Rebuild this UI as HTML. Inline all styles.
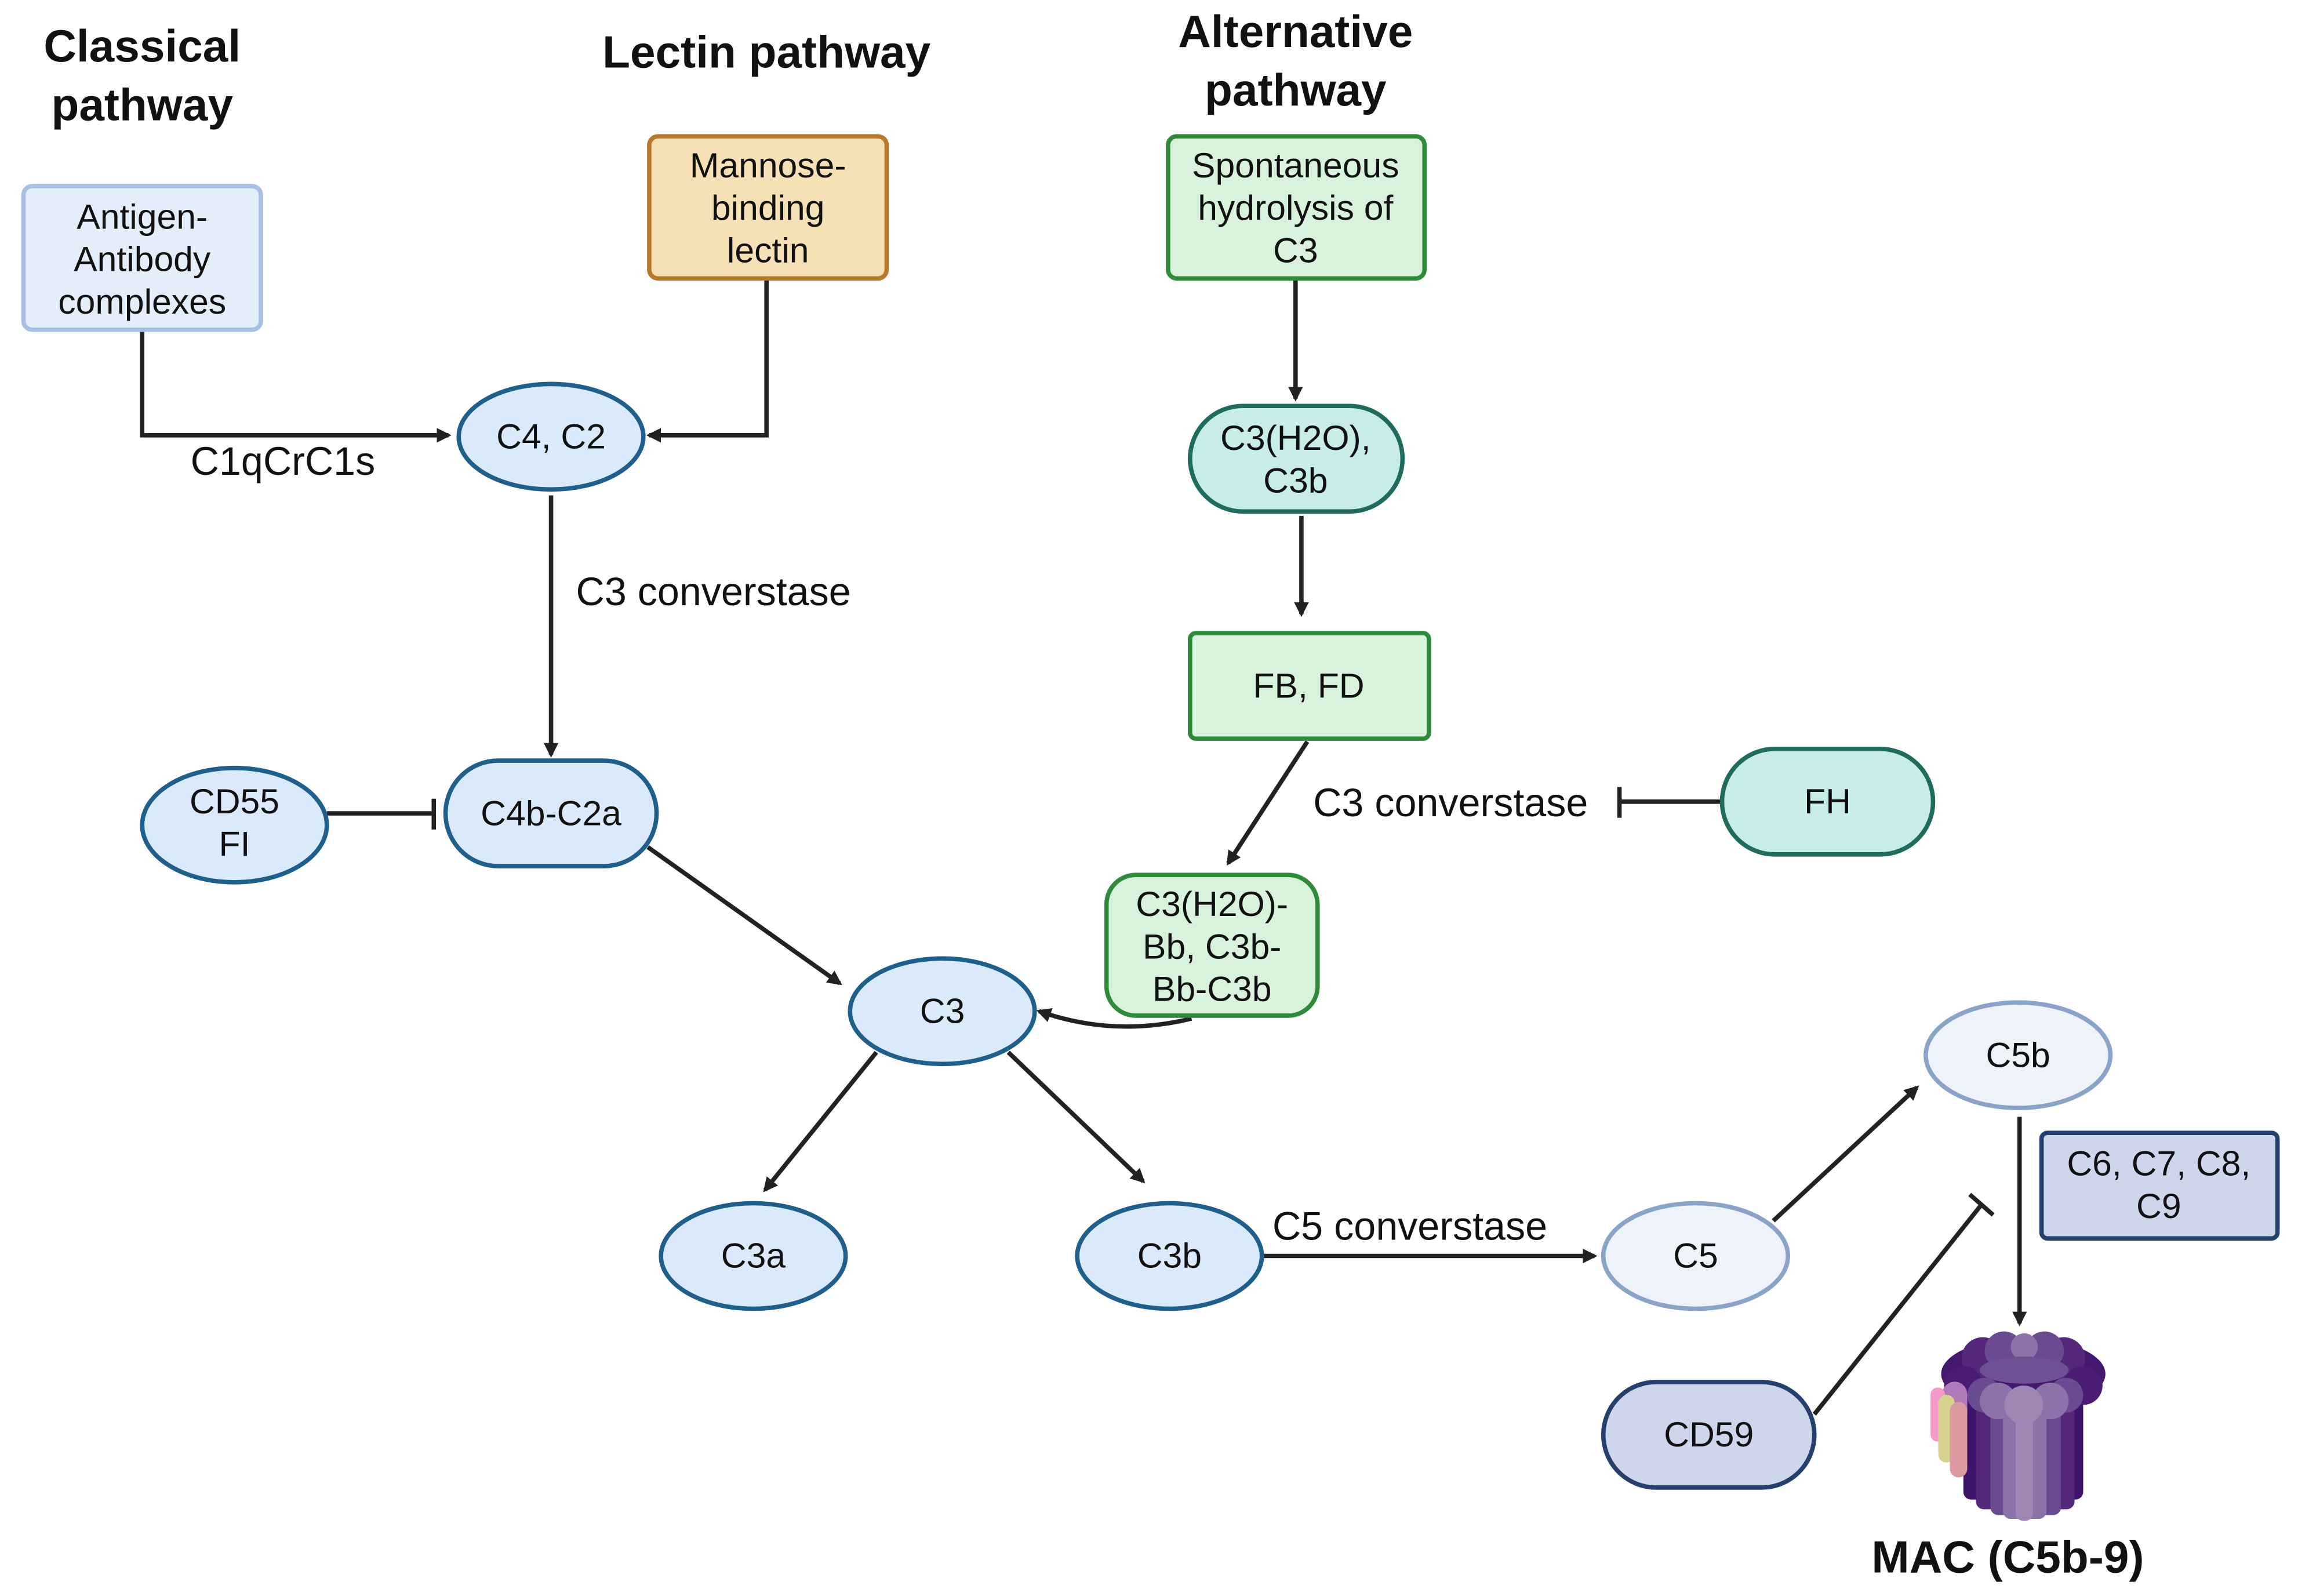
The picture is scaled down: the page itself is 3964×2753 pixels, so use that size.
<!DOCTYPE html>
<html><head><meta charset="utf-8"><style>
html,body{margin:0;padding:0;background:#fff;}
svg{display:block;}
text{font-family:"Liberation Sans",Arial,sans-serif;fill:#111;}
.t{font-size:24px;text-anchor:middle;}
.h{font-size:31px;font-weight:bold;text-anchor:middle;}
.l{font-size:27px;}
.ln{stroke:#222;stroke-width:3;fill:none;}
</style></head><body>
<svg width="3964" height="2753" viewBox="0 0 1568 1089" preserveAspectRatio="none" xmlns="http://www.w3.org/2000/svg">
<defs>
<marker id="a" markerWidth="10" markerHeight="10" refX="8" refY="5" orient="auto" markerUnits="userSpaceOnUse" viewBox="0 0 10 10"><path d="M0,0 L10,5 L0,10 z" fill="#222"/></marker>
</defs>
<rect width="1568" height="1089" fill="#fff"/>
<text class="h" x="97" y="42">Classical</text>
<text class="h" x="97" y="82">pathway</text>
<text class="h" x="523" y="46">Lectin pathway</text>
<text class="h" x="884" y="32">Alternative</text>
<text class="h" x="884" y="72">pathway</text>

<path class="ln" d="M97,225 V297 H306" marker-end="url(#a)"/>
<text class="l" x="130" y="324">C1qCrC1s</text>
<path class="ln" d="M523,190 V297 H443" marker-end="url(#a)"/>
<path class="ln" d="M376,338 V515" marker-end="url(#a)"/>
<text class="l" x="393" y="413">C3 converstase</text>
<path class="ln" d="M223,555 H295"/><path class="ln" d="M296,545 V566"/>
<path class="ln" d="M442,578 L573,671" marker-end="url(#a)"/>
<path class="ln" d="M884,190 V272" marker-end="url(#a)"/>
<path class="ln" d="M888,352 V419" marker-end="url(#a)"/>
<path class="ln" d="M892,506 L838,589" marker-end="url(#a)"/>
<text class="l" x="896" y="557">C3 converstase</text>
<path class="ln" d="M1105,547 H1175"/><path class="ln" d="M1105,537 V558"/>
<path class="ln" d="M813,695 Q760,708 709,690" marker-end="url(#a)"/>
<path class="ln" d="M598,718 L522,812" marker-end="url(#a)"/>
<path class="ln" d="M688,718 L780,806" marker-end="url(#a)"/>
<path class="ln" d="M862,857 H1088" marker-end="url(#a)"/>
<text class="l" x="962" y="846" text-anchor="middle">C5 converstase</text>
<path class="ln" d="M1210,833 L1308,742" marker-end="url(#a)"/>
<path class="ln" d="M1378,762 V903" marker-end="url(#a)"/>
<path class="ln" d="M1238,965 L1352,822"/><path class="ln" d="M1344,815 L1360,829"/>

<rect x="16" y="127" width="162" height="98" rx="6" fill="#e3eefa" stroke="#a6c0e6" stroke-width="3"/>
<text class="t" x="97" y="156">Antigen-</text><text class="t" x="97" y="185">Antibody</text><text class="t" x="97" y="214">complexes</text>

<rect x="443" y="93" width="162" height="97" rx="6" fill="#f6e0b5" stroke="#b8782d" stroke-width="3"/>
<text class="t" x="524" y="121">Mannose-</text><text class="t" x="524" y="150">binding</text><text class="t" x="524" y="179">lectin</text>

<rect x="797" y="93" width="175" height="97" rx="6" fill="#d8f2dc" stroke="#2e8b3a" stroke-width="3"/>
<text class="t" x="884" y="121">Spontaneous</text><text class="t" x="884" y="150">hydrolysis of</text><text class="t" x="884" y="179">C3</text>

<ellipse cx="376" cy="298" rx="63" ry="36" fill="#dbeafa" stroke="#1f5f8b" stroke-width="3"/>
<text class="t" x="376" y="306">C4, C2</text>

<rect x="304" y="519" width="144" height="72" rx="36" fill="#dbeafa" stroke="#1f5f8b" stroke-width="3"/>
<text class="t" x="376" y="563">C4b-C2a</text>

<ellipse cx="160" cy="563" rx="63" ry="39" fill="#dbeafa" stroke="#1f5f8b" stroke-width="3"/>
<text class="t" x="160" y="555">CD55</text><text class="t" x="160" y="584">FI</text>

<ellipse cx="643" cy="690" rx="63" ry="36" fill="#dbeafa" stroke="#1f5f8b" stroke-width="3"/>
<text class="t" x="643" y="698">C3</text>

<rect x="812" y="277" width="145" height="72" rx="36" fill="#c8ece8" stroke="#1f6b5e" stroke-width="3"/>
<text class="t" x="884" y="307">C3(H2O),</text><text class="t" x="884" y="336">C3b</text>

<rect x="812" y="432" width="163" height="72" rx="4" fill="#d8f2dc" stroke="#2e8b3a" stroke-width="3"/>
<text class="t" x="893" y="476">FB, FD</text>

<rect x="1175" y="511" width="144" height="72" rx="36" fill="#c8ece8" stroke="#1f6b5e" stroke-width="3"/>
<text class="t" x="1247" y="555">FH</text>

<rect x="755" y="597" width="144" height="96" rx="20" fill="#d8f2dc" stroke="#2e8b3a" stroke-width="3"/>
<text class="t" x="827" y="625">C3(H2O)-</text><text class="t" x="827" y="654">Bb, C3b-</text><text class="t" x="827" y="683">Bb-C3b</text>

<ellipse cx="514" cy="857" rx="63" ry="36" fill="#dbeafa" stroke="#1f5f8b" stroke-width="3"/>
<text class="t" x="514" y="865">C3a</text>
<ellipse cx="798" cy="857" rx="63" ry="36" fill="#dbeafa" stroke="#1f5f8b" stroke-width="3"/>
<text class="t" x="798" y="865">C3b</text>

<ellipse cx="1157" cy="857" rx="63" ry="36" fill="#eef3fa" stroke="#8aa3c8" stroke-width="3"/>
<text class="t" x="1157" y="865">C5</text>
<ellipse cx="1377" cy="720" rx="63" ry="36" fill="#eef3fa" stroke="#8aa3c8" stroke-width="3"/>
<text class="t" x="1377" y="728">C5b</text>

<rect x="1393" y="773" width="161" height="72" rx="4" fill="#cdd6ea" stroke="#26406e" stroke-width="3"/>
<text class="t" x="1473" y="802">C6, C7, C8,</text><text class="t" x="1473" y="831">C9</text>

<rect x="1094" y="943" width="144" height="72" rx="36" fill="#cdd6ea" stroke="#26406e" stroke-width="3"/>
<text class="t" x="1166" y="987">CD59</text>

<g transform="translate(1305.4,901.9) scale(0.13186)">
<ellipse cx="570" cy="270" rx="425" ry="185" fill="#45186f"/>
<circle cx="360" cy="190" r="110" fill="#54277a"/>
<circle cx="780" cy="190" r="110" fill="#54277a"/>
<circle cx="470" cy="150" r="100" fill="#6a4a90"/>
<circle cx="680" cy="150" r="100" fill="#6a4a90"/>
<circle cx="575" cy="130" r="70" fill="#8b72a8"/>
<ellipse cx="575" cy="250" rx="230" ry="70" fill="#6e5194"/>
<rect x="260" y="400" width="620" height="520" rx="40" fill="#3e136b"/>
<rect x="325" y="420" width="510" height="550" rx="40" fill="#54277a"/>
<rect x="400" y="420" width="365" height="580" rx="40" fill="#6a4a90"/>
<rect x="465" y="420" width="225" height="600" rx="40" fill="#8b72a8"/>
<rect x="530" y="420" width="90" height="610" rx="40" fill="#9d88b5"/>
<circle cx="260" cy="330" r="100" fill="#4a1c75"/>
<circle cx="880" cy="330" r="100" fill="#4a1c75"/>
<circle cx="370" cy="380" r="90" fill="#6a4a90"/>
<circle cx="790" cy="380" r="90" fill="#6a4a90"/>
<circle cx="440" cy="410" r="95" fill="#8b72a8"/>
<circle cx="710" cy="410" r="95" fill="#8b72a8"/>
<circle cx="572" cy="430" r="100" fill="#9d88b5"/>
<rect x="150" y="310" width="130" height="230" rx="65" fill="#b07ab8"/>
<rect x="90" y="340" width="75" height="280" rx="37" fill="#f59ac8"/>
<rect x="130" y="378" width="85" height="350" rx="42" fill="#d8d28f"/>
<rect x="190" y="415" width="90" height="390" rx="45" fill="#dc9aa0"/>
</g>
<text class="h" x="1370" y="1073">MAC (C5b-9)</text>
</svg>
</body></html>
